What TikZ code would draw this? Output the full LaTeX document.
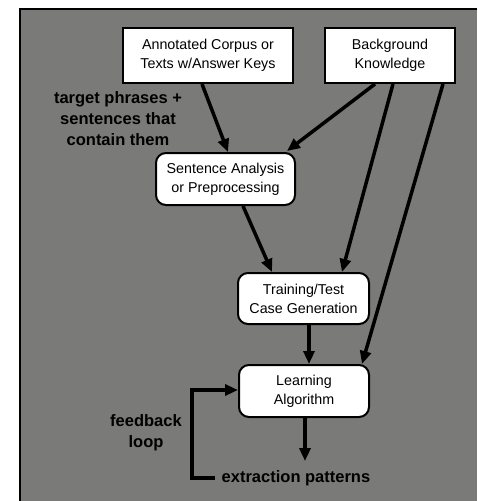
\documentclass[tikz,border=0pt]{standalone}
\usepackage{fontspec}
\setmainfont{Liberation Sans}
\usetikzlibrary{arrows.meta}
\definecolor{bggray}{RGB}{122,123,120}
\begin{document}
\begin{tikzpicture}[x=1pt,y=-1pt,
  sqbox/.style={draw=black,line width=2pt,fill=white,inner sep=0pt,align=center,
    font=\fontsize{14.3}{19}\selectfont},
  rbox/.style={sqbox,rounded corners=10pt},
  lbl/.style={align=center,inner sep=0pt,font=\fontsize{16.5}{21}\selectfont\bfseries},
  arr/.style={line width=3.5pt,-{Triangle[length=13pt,width=11pt]}},
  plain/.style={line width=3.5pt}]
\useasboundingbox (0,0) rectangle (477,501);
\fill[bggray] (20,9) rectangle (477,501);
\draw[line width=2pt] (20,501) -- (20,9) -- (477,9);

\node[sqbox,minimum width=170pt,minimum height=55pt] (corpus) at (208,55.5)
  {Annotated Corpus or\\Texts w/Answer Keys};
\node[sqbox,minimum width=130pt,minimum height=55pt] (bg) at (390,55.5)
  {Background\\Knowledge};
\node[rbox,minimum width=139pt,minimum height=52pt] (sent) at (225.5,179)
  {Sentence Analysis\\or Preprocessing};
\node[rbox,minimum width=131pt,minimum height=51pt] (train) at (303.5,298.5)
  {Training/Test\\Case Generation};
\node[rbox,minimum width=130pt,minimum height=52pt] (learn) at (304,391)
  {Learning\\Algorithm};

\node[lbl] (tp) at (118,119) {target phrases +\\sentences that\\contain them};
\node[lbl] (fb) at (146,432.5) {feedback\\loop};
\node[lbl,inner sep=0pt] (extract) at (296,478) {extraction patterns};
\coordinate (extop) at (305,461);

\draw[arr] ([xshift=-6pt]corpus.south) -- ([xshift=2.5pt]sent.north);
\draw[arr] ([xshift=-15pt]bg.south) -- ([xshift=61.5pt,yshift=1pt]sent.north);
\draw[arr] ([xshift=3pt]bg.south) -- ([xshift=38.5pt]train.north);
\draw[arr] ([xshift=53pt]bg.south) -- ([xshift=58pt]learn.north);
\draw[arr] ([xshift=17.5pt]sent.south) -- ([xshift=-31.5pt]train.north);
\draw[arr] ([xshift=5.5pt]train.south) -- ([xshift=5pt]learn.north);
\draw[arr] (learn.south -| extop) -- (extop);
\draw[arr,line cap=butt] ([xshift=-7pt]extract.west) -| (192,390) -- (learn.west |- 0,390);
\end{tikzpicture}
\end{document}
